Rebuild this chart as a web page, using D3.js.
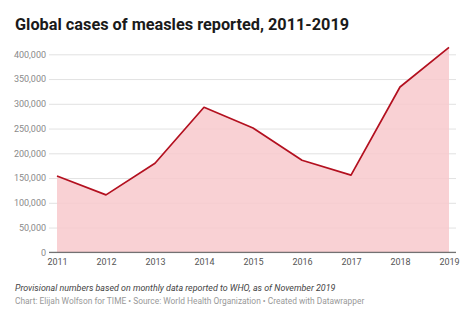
<!DOCTYPE html>
<html>
<head>
<meta charset="utf-8">
<script src="https://cdn.jsdelivr.net/npm/d3@7"></script>
<style>
  body { margin: 0; background: #fff; font-family: Roboto, "Noto Sans", sans-serif; }
</style>
</head>
<body>
<div class="chart"></div>
<script>
const width = 474;
const height = 325;

// measles cases per year
const years = [2011, 2012, 2013, 2014, 2015, 2016, 2017, 2018, 2019];
const cases = [154000, 116000, 180000, 293000, 251000, 186000, 156000, 334000, 414000];
const yTicks = [0, 50000, 100000, 150000, 200000, 250000, 300000, 350000, 400000];

const svg = d3.select(".chart")
    .append("svg")
    .attr("width", width)
    .attr("height", height);

const x = d3.scaleLinear().domain([2011, 2019]).range([57, 449]);
const y = d3.scaleLinear().domain([0, 400000]).range([252.3, 54.3]);

const data = years.map((yr, i) => ({year: yr, value: cases[i]}));

// title
svg.append("text")
    .attr("x", 15)
    .attr("y", 30)
    .attr("font-size", 16.3)
    .attr("font-weight", 700)
    .attr("fill", "#1a1a1a")
    .text("Global cases of measles reported, 2011-2019");

// gridlines + y labels
const yAxis = d3.axisLeft(y)
    .tickValues(yTicks)
    .tickSize(-(456 - 49))
    .tickPadding(3)
    .tickFormat(d3.format(","));

svg.append("g")
    .attr("transform", "translate(49,0)")
    .call(yAxis)
    .call(g => g.select(".domain").remove())
    .call(g => g.selectAll(".tick line").attr("stroke", "#e2e2e2"))
    .call(g => g.selectAll(".tick text")
        .attr("fill", "#8a8a8a")
        .attr("font-size", 9)
        .attr("font-family", "Roboto, sans-serif"));

// area + line
const area = d3.area()
    .x(d => x(d.year))
    .y0(y(0))
    .y1(d => y(d.value));

const line = d3.line()
    .x(d => x(d.year))
    .y(d => y(d.value));

svg.append("path")
    .datum(data)
    .attr("d", area)
    .attr("fill", "#f8c9cd")
    .attr("fill-opacity", 0.85);

// baseline
svg.append("line")
    .attr("x1", 49).attr("x2", 456)
    .attr("y1", y(0)).attr("y2", y(0))
    .attr("stroke", "#555")
    .attr("stroke-width", 1);

svg.append("path")
    .datum(data)
    .attr("d", line)
    .attr("fill", "none")
    .attr("stroke", "#b3101f")
    .attr("stroke-width", 1.7)
    .attr("stroke-linejoin", "round");

// x axis
const xAxis = d3.axisBottom(x)
    .tickValues(years)
    .tickSize(0)
    .tickPadding(6)
    .tickFormat(d3.format("d"));

svg.append("g")
    .attr("transform", `translate(0,${y(0)})`)
    .call(xAxis)
    .call(g => g.select(".domain").remove())
    .call(g => g.selectAll(".tick text")
        .attr("fill", "#555")
        .attr("font-size", 9)
        .attr("font-family", "Roboto, sans-serif"));

// notes
svg.append("text")
    .attr("x", 15)
    .attr("y", 290.5)
    .attr("font-size", 8.9)
    .attr("font-style", "italic")
    .attr("fill", "#444")
    .text("Provisional numbers based on monthly data reported to WHO, as of November 2019");

svg.append("text")
    .attr("x", 15)
    .attr("y", 304)
    .attr("font-size", 8.4)
    .attr("fill", "#999")
    .text("Chart: Elijah Wolfson for TIME \u2022 Source: World Health Organization \u2022 Created with Datawrapper");
</script>
</body>
</html>
